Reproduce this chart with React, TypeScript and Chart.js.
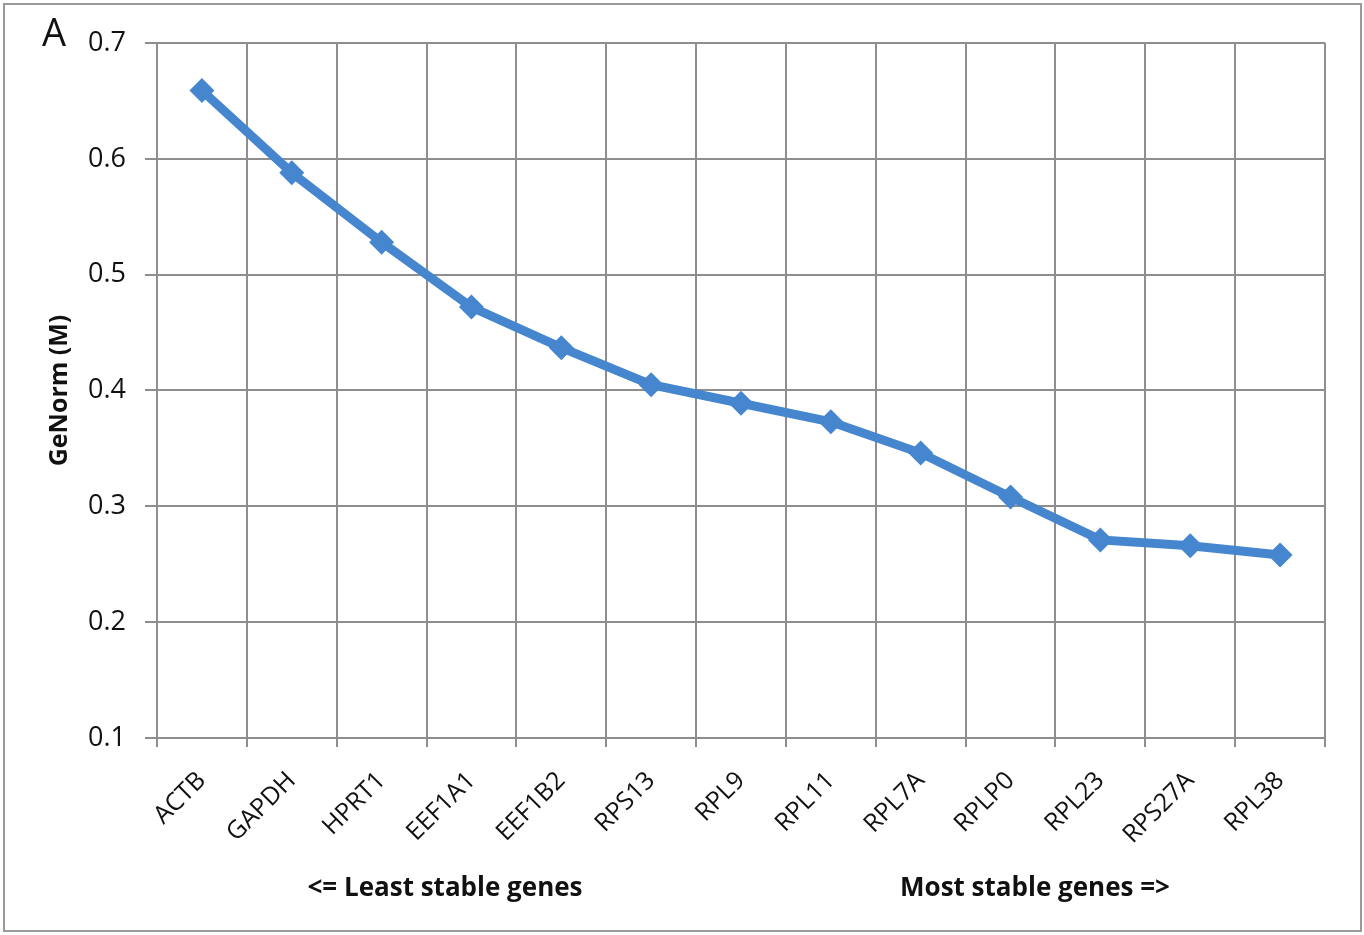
import React, { useEffect, useRef } from "react";
import { Chart, registerables } from "chart.js";

Chart.register(...registerables);

const genes = ["ACTB", "GAPDH", "HPRT1", "EEF1A1", "EEF1B2", "RPS13", "RPL9", "RPL11", "RPL7A", "RPLP0", "RPL23", "RPS27A", "RPL38"];
const genormM = [0.659, 0.588, 0.528, 0.472, 0.437, 0.405, 0.389, 0.373, 0.346, 0.308, 0.271, 0.266, 0.258];
const yTicks = [0.1, 0.2, 0.3, 0.4, 0.5, 0.6, 0.7];

const FONT = "'Open Sans', 'Noto Sans', sans-serif";

export default function App() {
  const ref = useRef<HTMLCanvasElement | null>(null);

  useEffect(() => {
    document.body.style.margin = "0";
    const ctx = ref.current!.getContext("2d")!;
    const chart = new Chart(ctx, {
      type: "line",
      data: {
        labels: genes,
        datasets: [
          {
            data: genormM,
            borderColor: "#4686ce",
            backgroundColor: "#4686ce",
            borderWidth: 9,
            pointStyle: "rectRot",
            pointRadius: 12.5,
            pointBorderWidth: 0,
            tension: 0,
          },
        ],
      },
      options: {
        animation: false,
        responsive: false,
        events: [],
        layout: { padding: { top: 43, right: 39, left: 0, bottom: 0 } },
        plugins: { legend: { display: false }, tooltip: { enabled: false } },
        scales: {
          x: {
            offset: true,
            grid: { offset: true, color: "#8e8e8e", lineWidth: 2, tickLength: 9 },
            border: { color: "#8e8e8e", width: 2 },
            ticks: {
              minRotation: 45,
              maxRotation: 45,
              color: "#111",
              padding: 19,
              font: { family: FONT, size: 25 },
            },
            afterFit: (s: any) => {
              s.height = 935 - 43 - 695;
            },
          },
          y: {
            min: 0.1,
            max: 0.7,
            afterBuildTicks: (s: any) => {
              s.ticks = yTicks.map((v) => ({ value: v }));
            },
            grid: { color: "#8e8e8e", lineWidth: 2, tickLength: 12 },
            border: { color: "#8e8e8e", width: 2 },
            ticks: {
              color: "#111",
              padding: 19,
              font: { family: FONT, size: 27 },
              callback: (v: any) => Number(v).toFixed(1),
            },
            title: {
              display: true,
              text: "GeNorm (M)",
              color: "#111",
              font: { family: FONT, size: 25, weight: "bold" },
              padding: { top: 45, bottom: 0 },
            },
            afterFit: (s: any) => {
              s.width = 157;
            },
          },
        },
      },
    });
    return () => chart.destroy();
  }, []);

  const bottomText: React.CSSProperties = {
    position: "absolute",
    top: 886,
    transform: "translate(-50%, -50%)",
    fontSize: 26,
    fontWeight: "bold",
    color: "#111",
    whiteSpace: "nowrap",
  };

  return (
    <div style={{ position: "relative", width: 1364, height: 935, background: "#fff", fontFamily: FONT }}>
      <canvas ref={ref} width={1364} height={935} style={{ display: "block" }} />
      <div
        style={{
          position: "absolute",
          left: 3,
          top: 3,
          width: 1359,
          height: 929,
          border: "2px solid #9a9a9a",
          boxSizing: "border-box",
          pointerEvents: "none",
        }}
      />
      <div style={{ position: "absolute", left: 42, top: 12, fontSize: 38, color: "#111", lineHeight: 1 }}>A</div>
      <div style={{ ...bottomText, left: 445 }}>{"<= Least stable genes"}</div>
      <div style={{ ...bottomText, left: 1035 }}>{"Most stable genes =>"}</div>
    </div>
  );
}
